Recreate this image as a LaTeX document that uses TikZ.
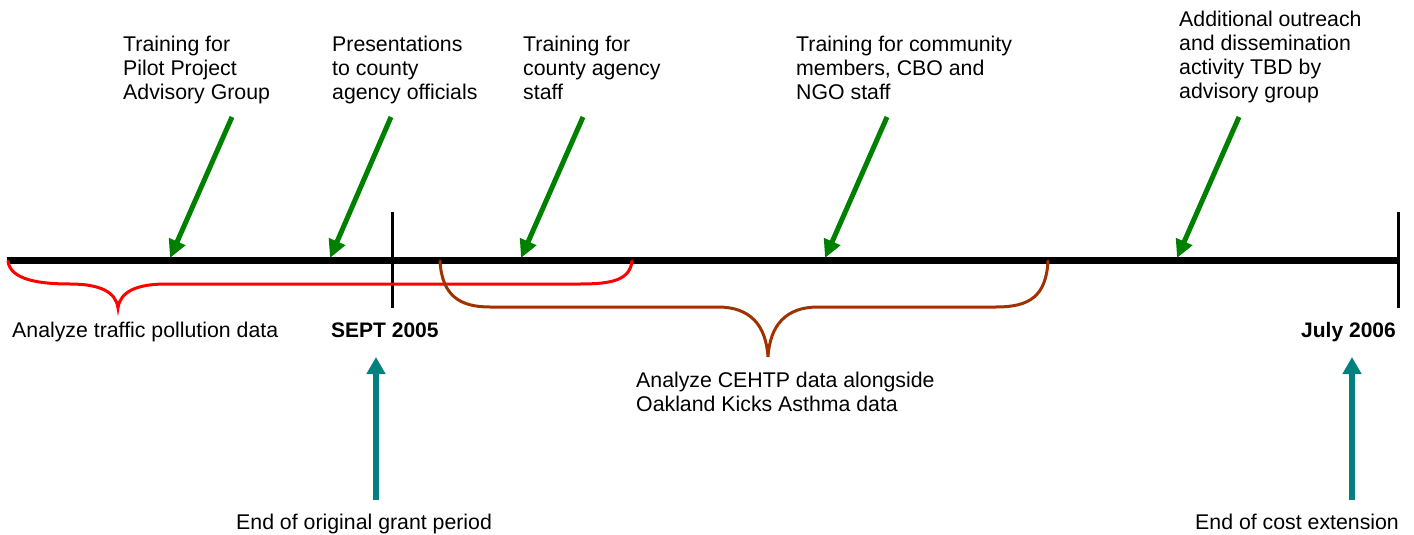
\documentclass[tikz,border=0pt]{standalone}
\usepackage{fontspec}
\setmainfont{Liberation Sans}
\usetikzlibrary{arrows.meta,positioning}
\usepackage{xcolor}
\definecolor{tlgreen}{RGB}{0,128,0}
\definecolor{tlteal}{RGB}{0,128,128}
\definecolor{tlbrown}{RGB}{160,50,0}
\tikzset{
  tltext/.style={anchor=north west, align=left, inner sep=0pt, font=\fontsize{21.3}{24}\selectfont},
  tlline/.style={anchor=base west, inner sep=0pt, font=\fontsize{21.3}{24}\selectfont},
  tldate/.style={inner sep=0pt, font=\fontsize{21}{24}\selectfont\bfseries},
  tlaxis/.style={line width=7pt},
  tltick/.style={line width=3pt},
  tlgarrow/.style={-{Triangle[length=18pt,width=17pt]}, line width=5pt, tlgreen},
  tltarrow/.style={-{Triangle[length=17pt,width=18pt]}, line width=6pt, tlteal},
  tlbrace/.style={line width=3pt, line cap=round},
}
\begin{document}
\begin{tikzpicture}[x=1pt, y=-1pt]
  \useasboundingbox (0,0) rectangle (1414,535);

  % activities above the line
  \node[tltext] (taskPilot) at (123,35.4) {Training for\\Pilot Project\\Advisory Group};
  \node[tltext] (taskCounty) at (332,35.4) {Presentations\\to county\\agency officials};
  \node[tltext] (taskStaff) at (523,35.4) {Training for\\county agency\\staff};
  \node[tltext] (taskCommunity) at (796,35.4) {Training for community\\members, CBO and\\NGO staff};
  \node[tltext] (taskOutreach) at (1179,10.7) {Additional outreach\\and dissemination\\activity TBD by\\advisory group};

  % timeline
  \coordinate (axisL) at (7,260);
  \coordinate (axisR) at (1400,260);
  \coordinate (septTop) at (392,212);
  \coordinate (septBot) at (392,308);
  \coordinate (julyTop) at (1398,212);
  \coordinate (julyBot) at (1398,308);
  \draw[tlaxis] (axisL) -- (axisR);
  \draw[tltick] (septTop) -- (septBot);
  \draw[tltick] (julyTop) -- (julyBot);

  % green pointers
  \coordinate (pilotTail) at (232,117);   \coordinate (pilotTip) at (170,258);
  \coordinate (countyTail) at (391,117);  \coordinate (countyTip) at (330,258);
  \coordinate (staffTail) at (583,117);   \coordinate (staffTip) at (521,258);
  \coordinate (commTail) at (887,117);    \coordinate (commTip) at (825,258);
  \coordinate (outTail) at (1239,117);    \coordinate (outTip) at (1177,258);
  \draw[tlgarrow] (pilotTail) -- (pilotTip);
  \draw[tlgarrow] (countyTail) -- (countyTip);
  \draw[tlgarrow] (staffTail) -- (staffTip);
  \draw[tlgarrow] (commTail) -- (commTip);
  \draw[tlgarrow] (outTail) -- (outTip);

  % braces
  \draw[tlbrace, red] (8,261) .. controls (10,280) and (40,284) .. (70,284)
    .. controls (100,284) and (116,292) .. (118,308)
    .. controls (120,292) and (136,284) .. (166,284) -- (580,284)
    .. controls (612,284) and (630,280) .. (632,261);
  \draw[tlbrace, tlbrown] (440,261) .. controls (442,296) and (460,307) .. (490,307) -- (718,307)
    .. controls (750,307) and (766,325) .. (768,357)
    .. controls (770,325) and (786,307) .. (818,307) -- (996,307)
    .. controls (1030,307) and (1046,296) .. (1048,261);

  % labels below the line
  \node[tlline] (spanTraffic) at (12,337) {Analyze traffic pollution data};
  \node[tldate, anchor=base west] (dateSept) at (331,337) {SEPT 2005};
  \node[tldate, anchor=base east] (dateJuly) at (1396,337) {July 2006};
  \node[tltext] (spanCehtp) at (636,371.4) {Analyze CEHTP data alongside\\Oakland Kicks Asthma data};

  % period ends
  \node[tlline] (endGrant) at (236,529) {End of original grant period};
  \node[tlline] (endCost) at (1195,529) {End of cost extension};
  \coordinate (grantTail) at (376,500);  \coordinate (grantTip) at (376,357);
  \coordinate (costTail) at (1352,500);  \coordinate (costTip) at (1352,357);
  \draw[tltarrow] (grantTail) -- (grantTip);
  \draw[tltarrow] (costTail) -- (costTip);
\end{tikzpicture}
\end{document}
